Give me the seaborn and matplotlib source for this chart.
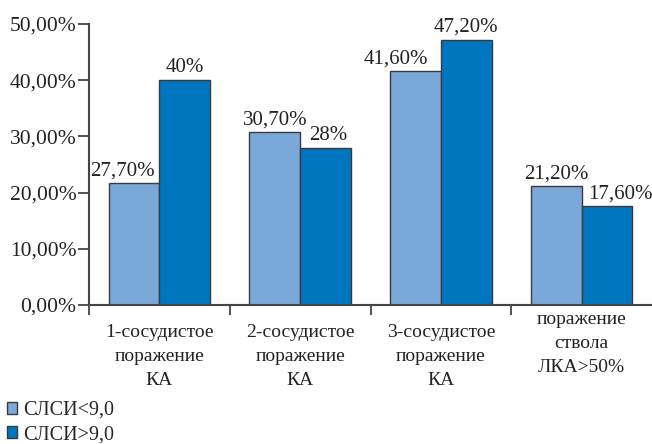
import matplotlib
matplotlib.use("Agg")
import matplotlib.pyplot as plt
import seaborn as sns
import pandas as pd
from matplotlib.patches import Patch

categories = ["1-сосудистое\nпоражение\nКА", "2-сосудистое\nпоражение\nКА",
              "3-сосудистое\nпоражение\nКА", "поражение\nствола\nЛКА>50%"]
series_names = ["СЛСИ<9,0", "СЛСИ>9,0"]
low_values = [21.7, 30.7, 41.6, 21.2]
high_values = [40.0, 28.0, 47.2, 17.6]
low_labels = ["27,70%", "30,70%", "41,60%", "21,20%"]
high_labels = ["40%", "28%", "47,20%", "17,60%"]
yticks = [0, 10, 20, 30, 40, 50]
ytick_labels = ["0,00%", "10,00%", "20,00%", "30,00%", "40,00%", "50,00%"]

colors = ["#7AA9D9", "#0076C0"]
edge = "#3a3a3a"

sns.set_style("white")
plt.rcParams["font.family"] = ["Liberation Serif", "DejaVu Serif"]

df = pd.DataFrame({
    "cat": categories * 2,
    "series": [series_names[0]] * 4 + [series_names[1]] * 4,
    "value": low_values + high_values,
})

fig = plt.figure(figsize=(6.52, 4.44), dpi=100)
ax = fig.add_axes([89/652, 1-305/444, 1-89/652, (305-24)/444])
sns.barplot(data=df, x="cat", y="value", hue="series", palette=colors,
            width=0.72, gap=0, edgecolor=edge, linewidth=1.0, ax=ax,
            legend=False, saturation=1)

ax.set_xlim(-0.5, 3.5)
ax.set_ylim(0, 50)
ax.set_xlabel("")
ax.set_ylabel("")
for s in ["top", "right"]:
    ax.spines[s].set_visible(False)
for s in ["left", "bottom"]:
    ax.spines[s].set_color("#444444")
    ax.spines[s].set_linewidth(1.5)

ax.set_yticks(yticks)
ax.set_yticklabels(ytick_labels, fontsize=15.5, color="#222222")
ax.tick_params(axis="y", direction="out", length=8, width=1.3, color="#444444", pad=1, left=True)

# category boundary ticks
ax.set_xticks([-0.5, 0.5, 1.5, 2.5])
ax.set_xticklabels([])
ax.tick_params(axis="x", direction="out", length=7, width=1.3, color="#444444", bottom=True)

label_y = [-0.068, -0.068, -0.068, -0.022]
for i, c in enumerate(categories):
    ax.text(i, label_y[i], c, transform=ax.get_xaxis_transform(), ha="center", va="top",
            fontsize=14, linespacing=1.55, color="#222222")

low_dx = [-8, 0, -14, 0]
high_dx = [0, 2, 0, 10]
conts = ax.containers
for cont, labels, dxs in [(conts[0], low_labels, low_dx), (conts[1], high_labels, high_dx)]:
    for p, lab, dx in zip(cont.patches, labels, dxs):
        ax.annotate(lab, (p.get_x() + p.get_width()/2, p.get_height()),
                    xytext=(dx, 2), textcoords="offset points", ha="center", va="bottom",
                    fontsize=15, color="#222222")

handles = [Patch(facecolor=colors[0], edgecolor=edge, linewidth=1),
           Patch(facecolor=colors[1], edgecolor=edge, linewidth=1)]
fig.legend(handles, series_names, loc="upper left", bbox_to_anchor=(0.004, 1-397/444),
           frameon=False, fontsize=14.5, handlelength=0.5, handleheight=0.5,
           handletextpad=0.3, labelspacing=0.25, borderpad=0.2, borderaxespad=0)

fig.savefig("out.png", dpi=100)
